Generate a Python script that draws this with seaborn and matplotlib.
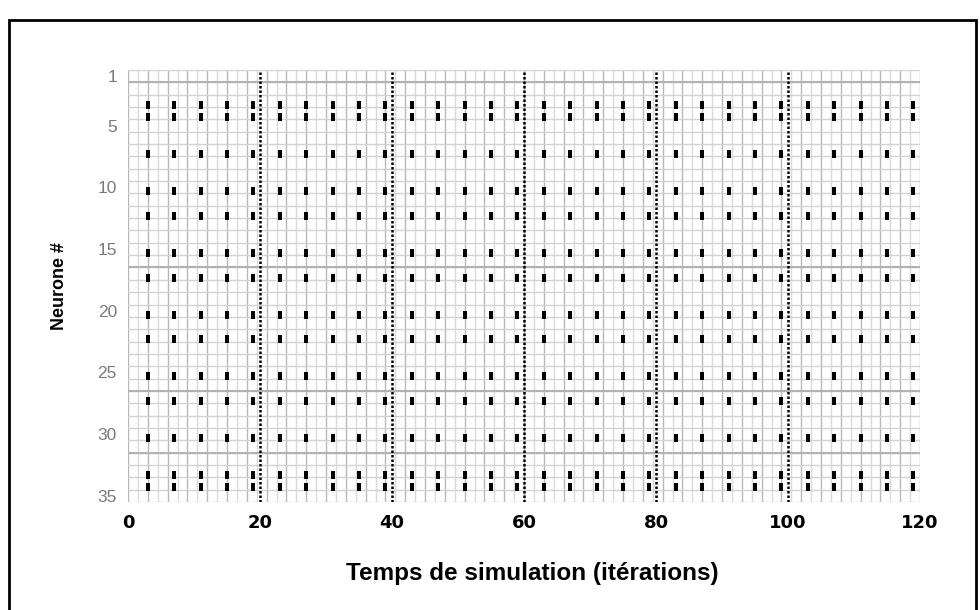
import numpy as np
import pandas as pd
import matplotlib
matplotlib.use("Agg")
import matplotlib.pyplot as plt
from matplotlib.patches import Rectangle
from matplotlib.path import Path
import seaborn as sns

# Spike raster: neurons that fire and the iterations at which they fire
firing_neurons = [3, 4, 7, 10, 12, 15, 17, 20, 22, 25, 27, 30, 33, 34]
spike_times = [3, 7, 11, 15, 19, 23, 27, 31, 35, 39, 43, 47, 51, 55, 59,
               63, 67, 71, 75, 79, 83, 87, 91, 95, 99, 103, 107, 111, 115, 119]
x_ticks = [0, 20, 40, 60, 80, 100, 120]
y_ticks = [1, 5, 10, 15, 20, 25, 30, 35]
block_edges = [1.5, 16.5, 26.5, 31.5]
n_neurons = 35
t_max = 120

spikes = pd.DataFrame(
    [(t, n) for n in firing_neurons for t in spike_times],
    columns=["t", "neuron"],
)

# Spike tick: a short bar hanging just below the neuron's row position
tick_path = Path([(-0.2, -0.06), (0.2, -0.06), (0.2, -1.0), (-0.2, -1.0), (-0.2, -0.06)],
                 [Path.MOVETO, Path.LINETO, Path.LINETO, Path.LINETO, Path.CLOSEPOLY])

sns.set_theme(style="white")
plt.rcParams["font.family"] = ["Liberation Sans", "DejaVu Sans"]

fig = plt.figure(figsize=(9.8, 6.1), dpi=100)
ax = fig.add_axes([128 / 980, 1 - 502 / 610, (920 - 128) / 980, (502 - 70) / 610])

# Background grid
for k, x in enumerate(np.arange(0, t_max + 0.01, 1.5)):
    ax.axvline(x, color="#b8b8b8" if k % 2 == 0 else "#dadada", lw=1.0, zorder=0)
for y in np.arange(0.5, n_neurons + 1, 1.0):
    ax.axhline(y, color="#d2d2d2", lw=1.0, zorder=0)
for y in block_edges:
    ax.axhline(y, color="#b2b2b2", lw=1.5, zorder=0)

# Dotted markers every 20 iterations
for x in x_ticks[1:-1]:
    ax.axvline(x, color="black", lw=1.8, ls=(0, (1, 0.8)), zorder=1)

sns.scatterplot(data=spikes, x="t", y="neuron", marker=tick_path, s=135,
                linewidth=0, color="black", ax=ax, zorder=3, legend=False)

ax.set_xlim(0, t_max)
ax.set_ylim(n_neurons + 0.5, 0.5)
for s in ax.spines.values():
    s.set_visible(False)

ax.set_xticks(x_ticks)
ax.set_xticklabels([str(v) for v in x_ticks], fontsize=13, fontweight="bold",
                   family=["DejaVu Sans"], color="black")
ax.set_yticks(y_ticks)
ax.set_yticklabels([str(v) for v in y_ticks], fontsize=12.5, color="#7a7a7a")
ax.tick_params(axis="x", length=0, pad=9)
ax.tick_params(axis="y", length=0, pad=8)

ax.set_xlabel("Temps de simulation (itérations)", fontsize=17.5, fontweight="bold",
              color="black")
ax.set_ylabel("Neurone #", fontsize=13, fontweight="bold", color="black")
ax.xaxis.set_label_coords(0.51, -0.14)
ax.yaxis.set_label_coords(-0.076, 0.5)

# Frame around the figure
fig.patches.append(Rectangle((9 / 980, -0.02), (976 - 9) / 980, 1.02 - 20 / 610,
                             transform=fig.transFigure, fill=False,
                             edgecolor="black", lw=2.0))

fig.savefig("out.png", dpi=100, facecolor="white")
